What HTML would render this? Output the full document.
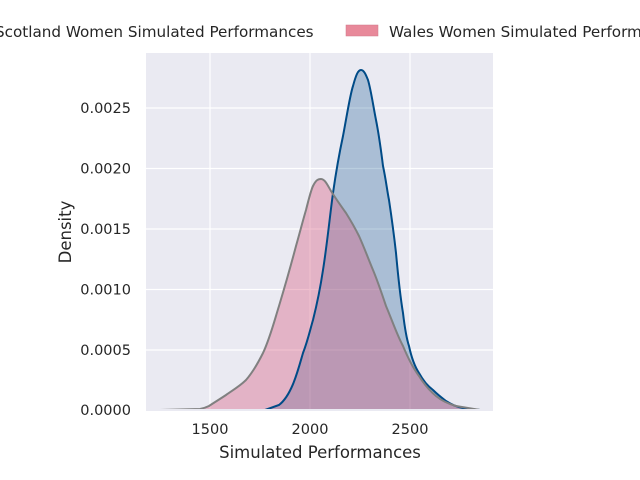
<!DOCTYPE html>
<html><head><style>body{margin:0;background:#fff}svg{display:block;font-family:"DejaVu Sans","Liberation Sans",sans-serif}</style></head>
<body>
<svg width="640" height="480" viewBox="0 0 640 480">
<defs>
<path id="b" d="M265,410 L279,405 C292,395 298,370 303,353 C308,340 310,330 313,320 C318,300 320,290 323,270 C327,245 330,215 333,193 C337,165 340,150 343,136 C347,115 350,95 353,86 C356,75 358,70 361,70 C364,70 366,75 368,80 C371,90 373,105 376,120 C379,135 381,150 383,166 C386,180 387,190 389,200 C392,220 394,235 396,253 C398,275 400,295 403,313 C405,330 407,340 409,346 C412,360 415,367 419,373 C424,382 428,386 433,390 C438,395 442,398 446,401 C452,405 457,407 463,408 L480,410 Z"/>
<path id="p" d="M160,410 L200,409 C205,408 207,407 209,406 C215,402 220,399 226,395 C233,390 240,386 246,380 C253,372 258,363 263,353 C270,338 274,322 279,306 C285,286 291,265 296,246 C300,232 303,220 306,210 C309,198 311,190 313,186 C316,180 318,179 321,179 C325,179 328,186 331,191 C336,199 341,206 346,213 C351,221 355,228 359,236 C364,247 368,258 373,270 C378,282 382,294 386,306 C392,320 397,335 403,346 C408,358 413,368 419,376 C424,384 430,391 436,396 C442,401 449,404 456,406 L480,410 Z"/>
</defs>
<rect x="146" y="53" width="347" height="357" fill="#eaeaf2"/>
<g stroke="#fff" stroke-width="1.2">
<line x1="210" y1="53" x2="210" y2="410"/><line x1="310" y1="53" x2="310" y2="410"/><line x1="410" y1="53" x2="410" y2="410"/>
<line x1="146" y1="108" x2="493" y2="108"/><line x1="146" y1="168.5" x2="493" y2="168.5"/><line x1="146" y1="229" x2="493" y2="229"/><line x1="146" y1="289.5" x2="493" y2="289.5"/><line x1="146" y1="350" x2="493" y2="350"/>
</g>
<use href="#b" fill="rgba(0,75,135,0.27)"/>
<use href="#p" fill="rgba(215,90,125,0.38)"/>
<use href="#b" fill="none" stroke="#004b87" stroke-width="2"/>
<use href="#p" fill="none" stroke="#808080" stroke-width="2"/>
<rect x="146" y="409" width="347" height="2" fill="#eaeaf2"/>
<g font-size="14.5" fill="#262626">
<g text-anchor="end"><text x="131" y="415">0.0000</text><text x="131" y="355">0.0005</text><text x="131" y="294.5">0.0010</text><text x="131" y="234">0.0015</text><text x="131" y="173.5">0.0020</text><text x="131" y="113">0.0025</text></g>
<g text-anchor="middle"><text x="210" y="434">1500</text><text x="310" y="434">2000</text><text x="410" y="434">2500</text></g>
</g>
<text x="320" y="458" font-size="16.5" fill="#262626" text-anchor="middle">Simulated Performances</text>
<text transform="translate(71,232) rotate(-90)" font-size="16.5" fill="#262626" text-anchor="middle">Density</text>
<text x="-5" y="37" font-size="15.2" fill="#262626">Scotland Women Simulated Performances</text>
<rect x="346" y="25" width="32" height="11" fill="#e8899a" stroke="#d07888" stroke-width="0.5"/>
<text x="389" y="37" font-size="15.2" fill="#262626">Wales Women Simulated Performances</text>
</svg>
</body></html>
